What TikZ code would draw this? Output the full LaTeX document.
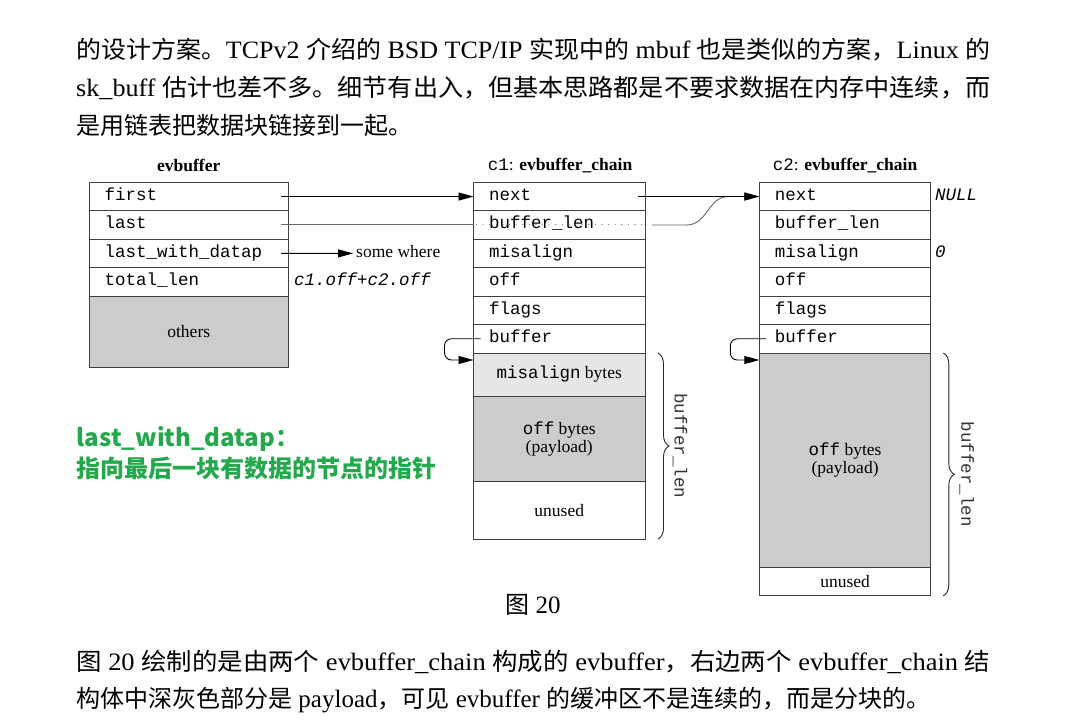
\documentclass[tikz,border=0pt]{standalone}
\usepackage{fontspec}
\usepackage{graphicx}
\usetikzlibrary{arrows.meta,decorations.pathreplacing,calc}

\setmainfont{Liberation Serif}
\newfontfamily\cjk[Scale=0.96]{Noto Sans CJK SC}
\newfontfamily\grnfont{Noto Sans CJK SC}
\newfontfamily\figserif{Liberation Serif}
\newfontfamily\figmono{Liberation Mono}

\newcommand\fsz{\fontsize{17.5pt}{17.5pt}\selectfont}
\newcommand\bodyfont{\rmfamily\fontsize{25pt}{38pt}\selectfont}

\definecolor{paygray}{HTML}{CCCCCC}
\definecolor{misgray}{HTML}{E6E6E6}
\definecolor{boxline}{HTML}{404040}
\definecolor{notegreen}{RGB}{35,168,75}

\tikzset{
  fld/.style={draw=boxline, line width=1pt, outer sep=0pt, anchor=north west,
    minimum height=28.45pt, inner xsep=15.5pt, inner ysep=0pt,
    text height=11pt, text depth=3.5pt, font=\figmono\fsz, align=left},
  evfld/.style={fld, minimum width=199.5pt, text width=168.5pt},
  cfld/.style={fld, minimum width=171.5pt, text width=140.5pt},
  blk/.style={draw=boxline, line width=1pt, outer sep=0pt, anchor=north west,
    inner sep=0pt, minimum width=171.5pt, font=\figserif\fsz, align=center},
  title/.style={anchor=base, inner sep=0pt, font=\figserif\fsz},
  note/.style={anchor=base west, inner sep=0pt, font=\figmono\itshape\fsz},
  ptr/.style={line width=0.9pt, -{Triangle[length=15pt,width=8pt]}},
  lastln/.style={draw=black!60, line width=1pt},
  brc/.style={decorate, decoration={brace, amplitude=11pt}, line width=0.9pt, draw=black!85},
  blen/.style={rotate=-90, inner sep=0pt, font=\figmono\fsz, text=black!80},
  bodyline/.style={anchor=base west, inner sep=0pt, font=\bodyfont},
  greennote/.style={anchor=base west, inner sep=0pt, text=notegreen,
    font=\grnfont\bfseries\fontsize{24pt}{30pt}\selectfont},
}

\begin{document}
\begin{tikzpicture}[x=1pt,y=-1pt]
\fill[white] (0,0) rectangle (1065,727);
\useasboundingbox (0,0) rectangle (1065,727);

% running text above the figure
\node[bodyline] (p1) at (76,58.3) {\resizebox{914pt}{\height}{{\cjk 的设计方案。}TCPv2 {\cjk 介绍的} BSD TCP/IP {\cjk 实现中的} mbuf {\cjk 也是类似的方案，}Linux {\cjk 的}}};
\node[bodyline] (p2) at (76,96.5) {\resizebox{914pt}{\height}{sk\_buff {\cjk 估计也差不多。细节有出入，但基本思路都是不要求数据在内存中连续，而}}};
\node[bodyline] (p3) at (76,134.7) {{\cjk 是用链表把数据块链接到一起。}};

% evbuffer
\node[title] (ev-title) at (188.75,171.5) {\textbf{evbuffer}};
\node[evfld] (ev-first) at (89,182.3) {first};
\node[evfld] (ev-last) at (ev-first.south west) {last};
\node[evfld] (ev-lwd) at (ev-last.south west) {last\_with\_datap};
\node[evfld] (ev-total) at (ev-lwd.south west) {total\_len};
\node[blk, fill=paygray, minimum width=199.5pt, minimum height=71.6pt] (ev-others) at (ev-total.south west) {others};
\node[note] (ev-sum) at (294,285.7) {c1.off+c2.off};
\node[anchor=west, inner xsep=3pt, inner ysep=0pt, text height=11pt, text depth=3.5pt, font=\figserif\fsz] (somewhere) at (353,253.4) {some where};

% chain c1
\node[title] (c1-title) at (560,171) {{\figmono c1}: \textbf{evbuffer\_chain}};
\node[cfld] (c1-next) at (473.5,182.3) {next};
\node[cfld] (c1-blen) at (c1-next.south west) {buffer\_len};
\node[cfld] (c1-misalign) at (c1-blen.south west) {misalign};
\node[cfld] (c1-off) at (c1-misalign.south west) {off};
\node[cfld] (c1-flags) at (c1-off.south west) {flags};
\node[cfld] (c1-buffer) at (c1-flags.south west) {buffer};
\node[blk, fill=misgray, minimum height=43pt] (c1-mis) at (c1-buffer.south west) {{\figmono misalign} bytes};
\node[blk, fill=paygray, minimum height=85.7pt] (c1-pay) at (c1-mis.south west) {{\figmono off} bytes\\(payload)};
\node[blk, minimum height=57.3pt] (c1-unused) at (c1-pay.south west) {unused};

% chain c2
\node[title] (c2-title) at (845,171) {{\figmono c2}: \textbf{evbuffer\_chain}};
\node[cfld] (c2-next) at (759.3,182.3) {next};
\node[cfld] (c2-blen) at (c2-next.south west) {buffer\_len};
\node[cfld] (c2-misalign) at (c2-blen.south west) {misalign};
\node[cfld] (c2-off) at (c2-misalign.south west) {off};
\node[cfld] (c2-flags) at (c2-off.south west) {flags};
\node[cfld] (c2-buffer) at (c2-flags.south west) {buffer};
\node[blk, fill=paygray, minimum height=214.3pt] (c2-pay) at (c2-buffer.south west) {{\figmono off} bytes\\(payload)};
\node[blk, minimum height=28.45pt] (c2-unused) at (c2-pay.south west) {unused};
\node[note] (c2-null) at (935,200.3) {NULL};
\node[note] (c2-zero) at (935,257.2) {0};

% pointers
\draw[ptr] ([xshift=-7.5pt]ev-first.east) -- (c1-next.west);
\draw[ptr] ([xshift=-7.5pt]ev-lwd.east) -- (somewhere.west);
\draw[lastln] ([xshift=-7.5pt]ev-last.east) -- (c1-blen.west);
\draw[lastln, line cap=round, dash pattern=on 0.1pt off 6.5pt] ([xshift=3pt]c1-blen.west) -- (c1-blen.east);
\draw[lastln, ptr] ([xshift=7pt]c1-blen.east) -- ++(35,0)
  .. controls +(20,0) and +(-20,0) .. ($(c2-next.west)+(-31,0)$) -- (c2-next.west);
\draw[ptr] ([xshift=-7pt]c1-next.east) -- (c2-next.west);
\draw[ptr, rounded corners=7pt] ([xshift=7pt]c1-buffer.west) -- ++(-36,0) |- ([yshift=-7pt]c1-mis.north west);
\draw[ptr, rounded corners=7pt] ([xshift=7pt]c2-buffer.west) -- ++(-36,0) |- ([yshift=-7pt]c2-pay.north west);

% buffer_len braces
\draw[brc] ([xshift=13pt]c1-mis.north east) -- ([xshift=13pt]c1-unused.south east);
\node[blen] (c1-blenlbl) at ($(c1-mis.north east)!0.5!(c1-unused.south east)+(35,0)$) {buffer\_len};
\draw[brc] ([xshift=12.5pt]c2-pay.north east) -- ([xshift=12.5pt]c2-unused.south east);
\node[blen] (c2-blenlbl) at ($(c2-pay.north east)!0.5!(c2-unused.south east)+(36,0)$) {buffer\_len};

% green remark
\node[greennote] (gn1) at (76.7,446.7) {last\_with\_datap：};
\node[greennote] (gn2) at (76.7,477.5) {指向最后一块有数据的节点的指针};

% caption
\node[anchor=base, inner sep=0pt, font=\bodyfont] (cap) at (533,613) {{\cjk 图} 20};

% running text below the figure
\node[bodyline] (q1) at (76,670) {\resizebox{914pt}{\height}{{\cjk 图} 20 {\cjk 绘制的是由两个} evbuffer\_chain {\cjk 构成的} evbuffer{\cjk ，右边两个} evbuffer\_chain {\cjk 结}}};
\node[bodyline] (q2) at (76,707) {{\cjk 构体中深灰色部分是} payload{\cjk ，可见} evbuffer {\cjk 的缓冲区不是连续的，而是分块的。}};
\end{tikzpicture}
\end{document}
